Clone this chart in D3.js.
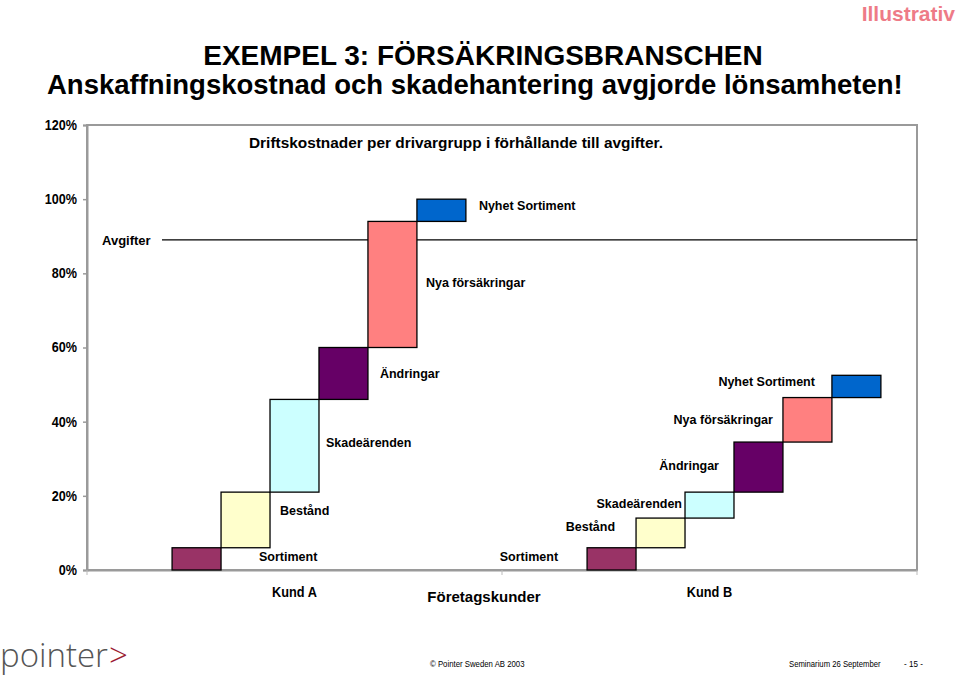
<!DOCTYPE html>
<html><head><meta charset="utf-8">
<script src="https://cdn.jsdelivr.net/npm/d3@7"></script>
<style>
html,body{margin:0;padding:0;background:#fff;}
svg{display:block;}
</style></head>
<body>
<svg id="chart" width="960" height="679"></svg>
<script>
// ---- data ----
const categories = ["Kund A", "Kund B"];
const drivers = ["Sortiment", "Bestånd", "Skadeärenden", "Ändringar", "Nya försäkringar", "Nyhet Sortiment"];
const kundA = [6, 15, 25, 14, 34, 6];       // increments (% of fees)
const kundB = [6, 8, 7, 13.5, 12, 6];
const avgifter = 89;
const yTicks = [0, 20, 40, 60, 80, 100, 120];
const driverColors = ["#993366", "#FFFFCC", "#CCFFFF", "#660066", "#FF8080", "#0066CC"];

// ---- layout ----
const svg = d3.select("#chart");
const plot = {left: 87, right: 917, top: 125, bottom: 570};
const sans = "Arial,'Liberation Sans',Helvetica,sans-serif";

// condense text horizontally (emulates a narrow font face)
function squeeze(sel, f) {
  sel.each(function () {
    const w = this.getComputedTextLength();
    d3.select(this).attr("textLength", w * f).attr("lengthAdjust", "spacingAndGlyphs");
  });
}

const y = d3.scaleLinear().domain([0, 120]).range([plot.bottom, plot.top]);
const x = d3.scaleBand().domain(categories).range([plot.left, plot.right]).padding(0);
const bw = x.bandwidth();
const xi = d3.scaleBand().domain(drivers).range([bw * 0.205, bw * 0.913]).padding(0);

// titles
svg.append("text").attr("x", 960 - 5).attr("y", 21).attr("text-anchor", "end")
  .attr("font-family", sans).attr("font-weight", "bold").attr("font-size", 21)
  .attr("fill", "#EE7B87").text("Illustrativ");
svg.append("text").attr("x", 483).attr("y", 65).attr("text-anchor", "middle")
  .attr("font-family", sans).attr("font-weight", "bold").attr("font-size", 28)
  .attr("fill", "#000").text("EXEMPEL 3: FÖRSÄKRINGSBRANSCHEN");
svg.append("text").attr("x", 47).attr("y", 94)
  .attr("font-family", sans).attr("font-weight", "bold").attr("font-size", 27.5)
  .attr("fill", "#000").text("Anskaffningskostnad och skadehantering avgjorde lönsamheten!");

// frame
const g = svg.append("g");
g.append("rect").attr("x", plot.left).attr("y", plot.top)
  .attr("width", plot.right - plot.left).attr("height", plot.bottom - plot.top)
  .attr("fill", "none").attr("stroke", "#9a9a9a").attr("stroke-width", 2);

// y axis
const yAxis = d3.axisLeft(y).tickValues(yTicks).tickSize(4).tickFormat(d => d + "%");
const ya = g.append("g").attr("transform", `translate(${plot.left},0)`).call(yAxis);
ya.select(".domain").attr("stroke", "#9a9a9a").attr("stroke-width", 2);
ya.selectAll(".tick line").attr("stroke", "#9a9a9a").attr("stroke-width", 1.5);
ya.selectAll(".tick text").attr("x", -10).attr("font-family", sans).attr("font-weight", "bold")
  .attr("font-size", 14).attr("fill", "#000").call(squeeze, 0.9);

// x axis
const xAxis = d3.axisBottom(x).tickSize(0).tickFormat("");
const xa = g.append("g").attr("transform", `translate(0,${plot.bottom})`).call(xAxis);
xa.select(".domain").attr("stroke", "#9a9a9a").attr("stroke-width", 2);
const sepTicks = [plot.left, x("Kund B"), plot.right];
xa.selectAll(".sep").data(sepTicks).join("line").attr("class", "sep")
  .attr("x1", d => d).attr("x2", d => d).attr("y1", 0).attr("y2", 5)
  .attr("stroke", "#bbbbbb").attr("stroke-width", 1);
xa.selectAll(".catlab").data(categories).join("text").attr("class", "catlab")
  .attr("x", d => x(d) + bw / 2).attr("y", 27).attr("text-anchor", "middle")
  .attr("font-family", sans).attr("font-weight", "bold").attr("font-size", 15)
  .attr("fill", "#000").text(d => d).call(squeeze, 0.85);
svg.append("text").attr("x", plot.left + (plot.right - plot.left) / 2 - 18).attr("y", 602)
  .attr("text-anchor", "middle").attr("font-family", sans).attr("font-weight", "bold")
  .attr("font-size", 15).attr("fill", "#000").text("Företagskunder");

// subtitle
svg.append("text").attr("x", 249).attr("y", 148)
  .attr("font-family", sans).attr("font-weight", "bold").attr("font-size", 15.4)
  .attr("fill", "#000").text("Driftskostnader per drivargrupp i förhållande till avgifter.");

// Avgifter line
g.append("line").attr("x1", 162).attr("x2", plot.right)
  .attr("y1", y(avgifter)).attr("y2", y(avgifter)).attr("stroke", "#000").attr("stroke-width", 1.2);
svg.append("text").attr("x", 102).attr("y", y(avgifter)).attr("dy", "0.35em")
  .attr("font-family", sans).attr("font-weight", "bold").attr("font-size", 13)
  .attr("fill", "#000").text("Avgifter");

// bars
function build(vals) {
  let c = 0;
  return vals.map((v, i) => { const o = {driver: drivers[i], y0: c, y1: c + v, i}; c += v; return o; });
}
const series = {"Kund A": build(kundA), "Kund B": build(kundB)};
// label offsets (layout): Kund A labels to the right of bars, Kund B to the left
const labA = [[38, -2], [10, -9], [7, -3], [12, 0], [9, -2], [13, -5]];
const labB = [[-29, -2], [-21, -6], [-3, -1], [-15, -1], [-10, 0], [-17, -5]];

categories.forEach((cat, ci) => {
  const data = series[cat];
  const cg = g.append("g").attr("transform", `translate(${x(cat)},0)`);
  cg.selectAll("rect").data(data).join("rect")
    .attr("x", d => xi(d.driver)).attr("width", xi.bandwidth())
    .attr("y", d => y(d.y1)).attr("height", d => y(d.y0) - y(d.y1))
    .attr("fill", d => driverColors[d.i]).attr("stroke", "#000").attr("stroke-width", 1.3);
  const offs = ci === 0 ? labA : labB;
  cg.selectAll("text.lab").data(data).join("text").attr("class", "lab")
    .attr("x", d => (ci === 0 ? xi(d.driver) + xi.bandwidth() : xi(d.driver)) + offs[d.i][0])
    .attr("y", d => (y(d.y0) + y(d.y1)) / 2 + offs[d.i][1]).attr("dy", "0.35em")
    .attr("text-anchor", ci === 0 ? "start" : "end")
    .attr("font-family", sans).attr("font-weight", "bold").attr("font-size", 12.5)
    .attr("fill", "#000").text(d => d.driver);
});

// footer
const logo = svg.append("text").attr("x", 0).attr("y", 667)
  .attr("font-family", "'Open Sans',sans-serif").attr("font-weight", 300).attr("font-size", 33)
  .attr("fill", "#555").text("pointer");
const lw = logo.node().getComputedTextLength();
svg.append("text").attr("x", lw + 1).attr("y", 667)
  .attr("font-family", "'Open Sans',sans-serif").attr("font-weight", 300).attr("font-size", 33)
  .attr("fill", "#9b1b30").text(">");
svg.append("text").attr("x", 430).attr("y", 667)
  .attr("font-family", sans).attr("font-size", 9.5).attr("fill", "#000")
  .text("© Pointer Sweden AB 2003").call(squeeze, 0.82);
svg.append("text").attr("x", 789).attr("y", 667)
  .attr("font-family", sans).attr("font-size", 9.5).attr("fill", "#000")
  .text("Seminarium 26 September").call(squeeze, 0.81);
svg.append("text").attr("x", 904).attr("y", 667)
  .attr("font-family", sans).attr("font-size", 9.5).attr("fill", "#000")
  .text("- 15 -").call(squeeze, 0.85);
</script>
</body></html>
